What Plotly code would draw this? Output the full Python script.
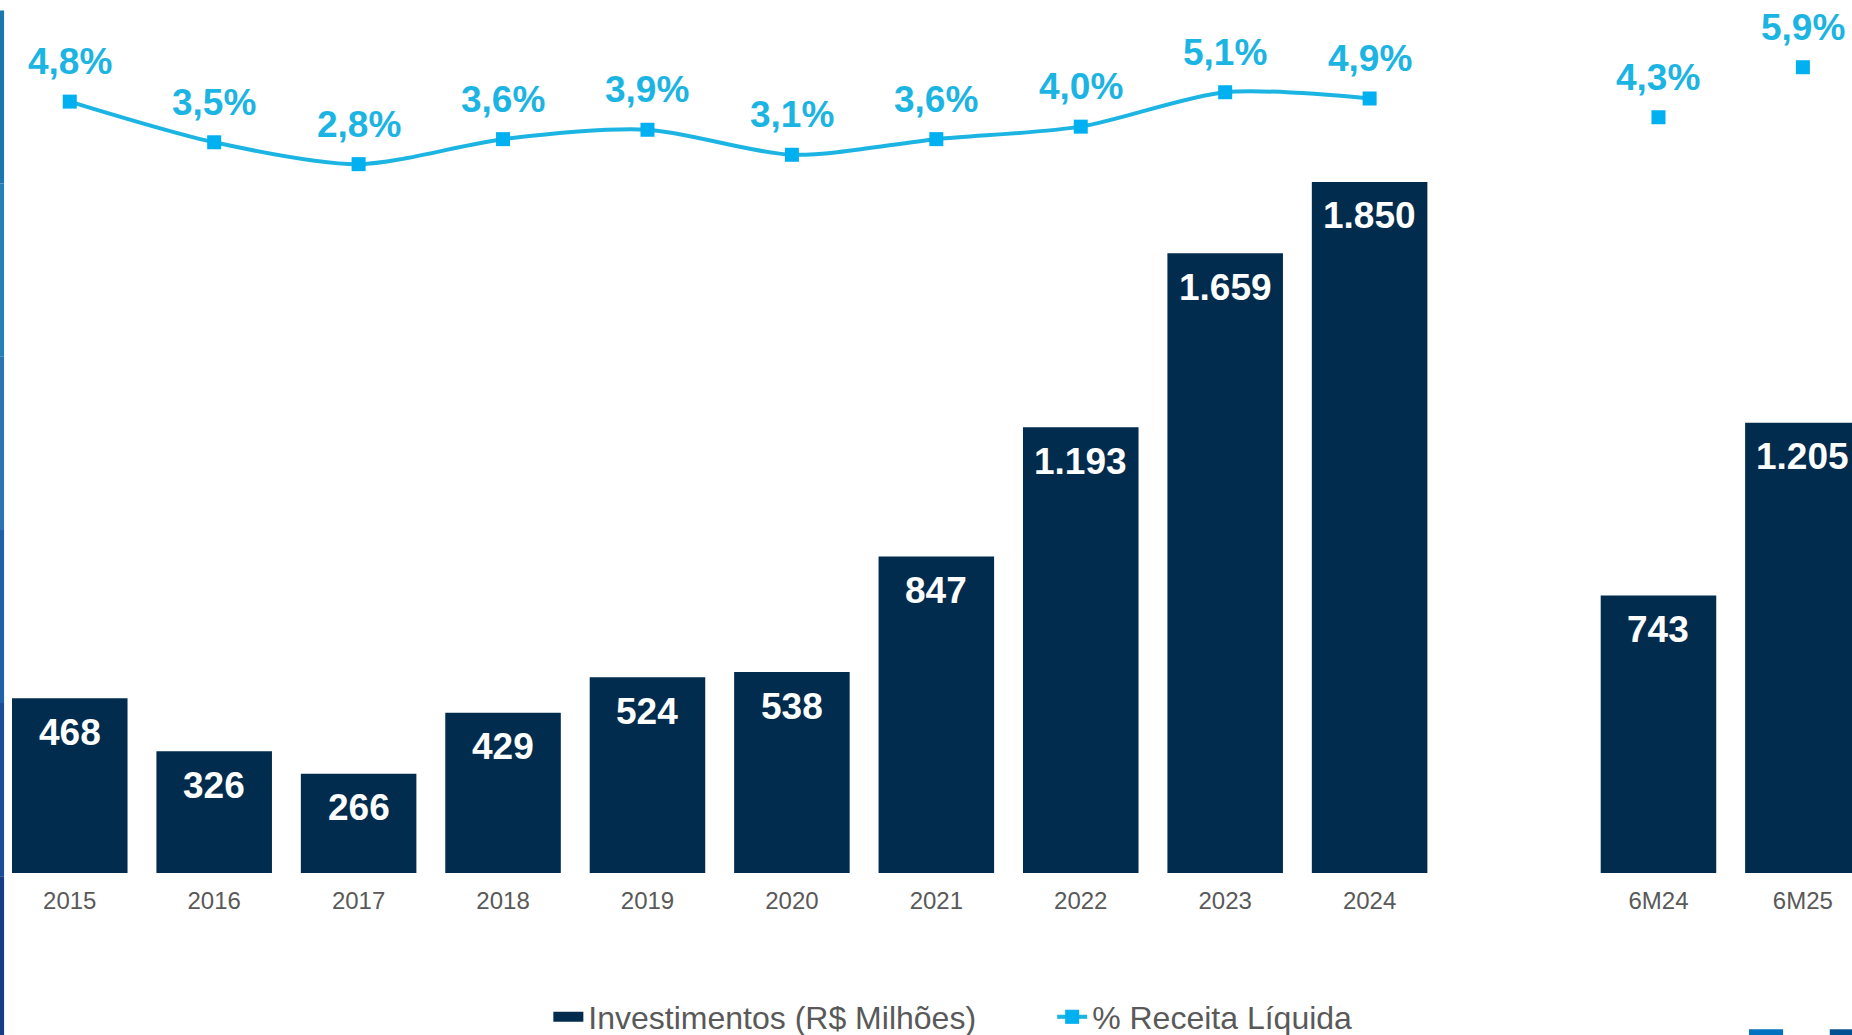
import plotly.graph_objects as go

# valores
anos = ["2015", "2016", "2017", "2018", "2019", "2020", "2021", "2022", "2023", "2024"]
semestres = ["6M24", "6M25"]
investimentos_anos = [468, 326, 266, 429, 524, 538, 847, 1193, 1659, 1850]
investimentos_sem = [743, 1205]
receita_pct_anos = [4.8, 3.5, 2.8, 3.6, 3.9, 3.1, 3.6, 4.0, 5.1, 4.9]
receita_pct_sem = [4.3, 5.9]
ordem_eixo = anos + [" "] + semestres

NAVY = "#022c4e"
CYAN = "#1cb4e2"
MARK = "#00b0f0"
GREY = "#595959"
FONT = "Arial, Liberation Sans, sans-serif"


def fmt_int(v):
    return f"{v:,}".replace(",", ".")


def fmt_pct(v):
    return f"{v:.1f}%".replace(".", ",")


cats = anos + semestres
invest = investimentos_anos + investimentos_sem
pcts = receita_pct_anos + receita_pct_sem

fig = go.Figure()

fig.add_trace(
    go.Bar(
        x=cats,
        y=invest,
        name="Investimentos (R$ Milhões)",
        marker=dict(color=NAVY, line=dict(width=0)),
        showlegend=False,
        yaxis="y",
    )
)

# entrada de legenda com retângulo largo (como no original)
fig.add_trace(
    go.Scatter(
        x=[None],
        y=[None],
        mode="lines",
        name="Investimentos (R$ Milhões)" + "&nbsp;" * 8,
        line=dict(color=NAVY, width=18),
        yaxis="y",
    )
)

fig.add_trace(
    go.Scatter(
        x=anos,
        y=receita_pct_anos,
        mode="lines+markers",
        name="% Receita Líquida",
        line=dict(color=CYAN, width=4, shape="spline", smoothing=0.8),
        marker=dict(color=MARK, symbol="square", size=14),
        yaxis="y2",
    )
)

fig.add_trace(
    go.Scatter(
        x=semestres,
        y=receita_pct_sem,
        mode="markers",
        marker=dict(color=MARK, symbol="square", size=14),
        showlegend=False,
        yaxis="y2",
    )
)

annotations = []
for c, v in zip(cats, invest):
    annotations.append(
        dict(
            x=ordem_eixo.index(c), y=v, xref="x", yref="y",
            text=f"<b>{fmt_int(v)}</b>",
            showarrow=False, yanchor="middle", yshift=-34,
            font=dict(family=FONT, size=37, color="white"),
        )
    )
for c, v in zip(cats, pcts):
    annotations.append(
        dict(
            x=ordem_eixo.index(c), y=v, xref="x", yref="y2",
            text=f"<b>{fmt_pct(v)}</b>",
            showarrow=False, yanchor="middle", yshift=40,
            font=dict(family=FONT, size=37, color=CYAN),
        )
    )

# faixa decorativa à esquerda e marcas no canto inferior direito
shapes = []
faixa = ["#1a78ae", "#2680b8", "#2a74b4", "#2060a8", "#1a4c98", "#163c8a"]
for i, cor in enumerate(faixa):
    y0 = 1 - 0.012 - i * (1.19 / len(faixa))
    shapes.append(
        dict(type="rect", xref="paper", yref="paper",
             x0=-0.0, x1=0.0022, y0=y0 - 1.19 / len(faixa), y1=y0,
             fillcolor=cor, line=dict(width=0), layer="above")
    )
shapes.append(dict(type="rect", xref="paper", yref="paper", x0=0.9444, x1=0.9628,
                   y0=-0.186, y1=-0.179, fillcolor="#0072c0", line=dict(width=0)))
shapes.append(dict(type="rect", xref="paper", yref="paper", x0=0.988, x1=1.0,
                   y0=-0.186, y1=-0.179, fillcolor="#005192", line=dict(width=0)))

fig.update_layout(
    width=1852,
    height=1035,
    paper_bgcolor="white",
    plot_bgcolor="white",
    margin=dict(l=0, r=0, t=0, b=162, autoexpand=False),
    bargap=0.2,
    font=dict(family=FONT, color=GREY),
    xaxis=dict(
        type="category",
        categoryorder="array",
        categoryarray=ordem_eixo,
        range=[-0.483, 12.34],
        showgrid=False,
        showline=False,
        zeroline=False,
        ticks="outside",
        ticklen=6,
        tickcolor="rgba(0,0,0,0)",
        tickfont=dict(family=FONT, size=24, color=GREY),
    ),
    yaxis=dict(range=[0, 2337], visible=False, showgrid=False),
    yaxis2=dict(range=[-19.87, 8.05], overlaying="y", visible=False, showgrid=False),
    legend=dict(
        orientation="h",
        x=0.5145,
        xanchor="center",
        y=-0.165,
        yanchor="middle",
        font=dict(family=FONT, size=32, color=GREY),
        bgcolor="rgba(0,0,0,0)",
    ),
    annotations=annotations,
    shapes=shapes,
    showlegend=True,
)

fig.write_html(
    "out.html",
    config={"displayModeBar": False},
    post_script="document.body.style.margin='0';document.body.style.overflow='hidden';",
)
